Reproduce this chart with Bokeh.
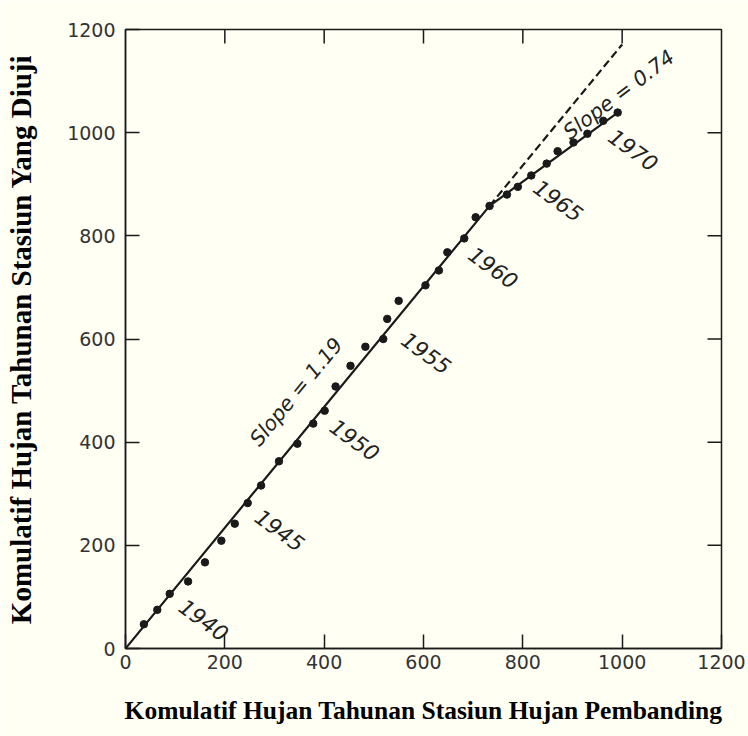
from bokeh.plotting import figure
from bokeh.models import Range1d, FixedTicker, ColumnDataSource
from bokeh.core.properties import value
from bokeh.embed import file_html
from bokeh.resources import INLINE
import math

# ---- data ----
years = list(range(1938, 1972))
cum_ref = [37, 64, 89, 126, 160, 193, 220, 246, 273, 309,
           346, 378, 401, 423, 453, 483, 519, 527, 550, 604,
           631, 648, 682, 705, 733, 768, 790, 817, 848, 870,
           902, 930, 962, 991]
cum_test = [47, 75, 106, 130, 167, 209, 242, 282, 316, 363,
            397, 436, 461, 508, 548, 585, 600, 639, 674, 704,
            733, 768, 795, 836, 858, 880, 895, 917, 940, 964,
            981, 998, 1023, 1039]

fit_x = [0, 733, 991]
fit_y = [0, 858, 1039]
ext_x = [733, 1000]
ext_y = [858, 1171]

label_years = [1940, 1945, 1950, 1955, 1960, 1965, 1970]
slope_texts = ["Slope = 1.19", "Slope = 0.74"]
ticks = [0, 200, 400, 600, 800, 1000, 1200]

x_title = "Komulatif Hujan Tahunan Stasiun Hujan Pembanding"
y_title = "Komulatif Hujan Tahunan Stasiun Yang Diuji"

# ---- layout / style ----
BG = "#fffff4"
INK = "#1a1a1a"
W, H = 748, 736
ML, MR, MT, MB = 125, 27, 29, 88
XMAX = ticks[-1]
px_per_x = (W - ML - MR) / XMAX
px_per_y = (H - MT - MB) / XMAX
TICK = 14

p = figure(width=W, height=H, output_backend="svg", toolbar_location=None,
           x_range=Range1d(0, XMAX), y_range=Range1d(0, XMAX),
           min_border_left=ML, min_border_right=MR,
           min_border_top=MT, min_border_bottom=MB,
           background_fill_color=BG, border_fill_color=BG)
p.grid.visible = False
p.outline_line_color = INK
p.outline_line_width = 1.5

ticker = FixedTicker(ticks=ticks)
for ax in [p.xaxis[0], p.yaxis[0]]:
    ax.ticker = ticker
    ax.major_tick_in = TICK
    ax.major_tick_out = 0
    ax.minor_tick_line_color = None
    ax.axis_line_color = INK
    ax.axis_line_width = 1.5
    ax.major_tick_line_color = INK
    ax.major_tick_line_width = 1.5
    ax.major_label_text_font = "DejaVu Sans"
    ax.major_label_text_font_size = "19px"
    ax.major_label_text_color = "#333333"
    ax.axis_label_text_font = "Liberation Serif"
    ax.axis_label_text_font_style = "bold"
    ax.axis_label_text_color = "#000000"

p.xaxis[0].axis_label = x_title
p.xaxis[0].axis_label_text_font_size = "25.5px"
p.xaxis[0].major_label_standoff = 6
p.xaxis[0].axis_label_standoff = 24

p.yaxis[0].axis_label = y_title
p.yaxis[0].axis_label_text_font_size = "29px"
p.yaxis[0].major_label_standoff = 10
p.yaxis[0].axis_label_standoff = 27

# inward ticks on the top and right edges
inner = ticks[1:-1]
p.segment(x0=inner, y0=[XMAX] * len(inner), x1=inner,
          y1=[XMAX - TICK / px_per_y] * len(inner),
          line_color=INK, line_width=1.5)
p.segment(x0=[XMAX] * len(inner), y0=inner,
          x1=[XMAX - TICK / px_per_x] * len(inner), y1=inner,
          line_color=INK, line_width=1.5)

# lines
p.line(fit_x, fit_y, line_color=INK, line_width=2.2)
p.line(ext_x, ext_y, line_color=INK, line_width=2.2, line_dash="8 4")

# points
p.scatter(cum_ref, cum_test, size=7.5, color=INK)

# year labels
lab_x = [cum_ref[years.index(yy)] for yy in label_years]
lab_y = [cum_test[years.index(yy)] for yy in label_years]
lab_dx = [12, 10, 8, 17, 7, 5, 8]
lab_dy = [10, 11, 13, 18, 13, 9, 13]
src = ColumnDataSource(dict(x=lab_x, y=lab_y, t=[str(v) for v in label_years],
                            dx=lab_dx, dy=lab_dy))
p.text(x="x", y="y", text="t", source=src, x_offset="dx", y_offset="dy",
       angle=-36, angle_units="deg", text_align="left", text_baseline="middle",
       text_font=value("DejaVu Sans"), text_font_style="italic",
       text_font_size="21.5px", text_color="#222222")

# slope annotations
frac = 392 / fit_x[1]
s1x = fit_x[1] * frac
s1y = fit_y[1] * frac
ang1 = math.degrees(math.atan((fit_y[1] * px_per_y) / (fit_x[1] * px_per_x)))
ang2 = math.degrees(math.atan(((fit_y[2] - fit_y[1]) * px_per_y) /
                              ((fit_x[2] - fit_x[1]) * px_per_x)))
p.text(x=[s1x], y=[s1y], text=[slope_texts[0]], x_offset=-24, y_offset=-20,
       angle=ang1, angle_units="deg", text_align="center", text_baseline="middle",
       text_font=value("DejaVu Sans"), text_font_style="italic",
       text_font_size="20.5px", text_color="#222222")
p.text(x=[fit_x[2]], y=[fit_y[2]], text=[slope_texts[1]], x_offset=1, y_offset=-18,
       angle=ang2 + 1, angle_units="deg", text_align="center", text_baseline="middle",
       text_font=value("DejaVu Sans"), text_font_style="italic",
       text_font_size="20.5px", text_color="#222222")

open("out.html", "w").write(file_html(p, INLINE))
